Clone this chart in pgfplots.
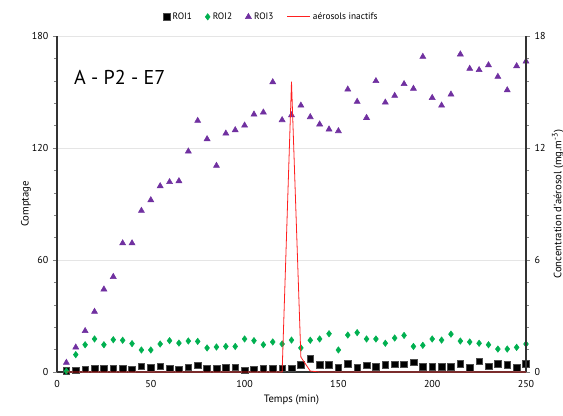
\documentclass[border=0pt]{standalone}
\usepackage{fontspec}
\setmainfont{PT Sans}
\usepackage{pgfplots}
\pgfplotsset{compat=1.18}
\definecolor{roigreen}{HTML}{00B050}
\definecolor{roipurple}{HTML}{7030A0}
\definecolor{aero}{HTML}{FF2020}

\begin{document}
\begin{tikzpicture}
\pgfplotsset{
  common/.style={
    scale only axis, width=351.75pt, height=252pt,
    xmin=0, xmax=250,
    /pgf/number format/assume math mode=true,
    tick label style={font=\fontsize{7.5}{8}\selectfont},
    label style={font=\fontsize{8}{9}\selectfont},
    minor y tick num=4,
    tick align=outside,
    major tick length=3pt, minor tick length=2pt,
    axis line style={black!80, line width=0.8pt},
  }
}
\begin{axis}[common, name=ax,
    ymin=0, ymax=180, ytick={0,60,120,180},
    xtick={0,50,...,250},
    axis x line*=bottom, axis y line*=left,
    x tick style={draw=none},
    ymajorgrids, major grid style={gray!20, line width=0.6pt},
    xlabel={Temps (min)}, ylabel={Comptage},
    xlabel style={yshift=2pt}, ylabel style={yshift=-6pt},
    legend columns=4,
    legend style={at={(0.458,1.057)}, anchor=center, draw=none,
      font=\fontsize{7}{8}\selectfont,
      /tikz/every even column/.append style={column sep=8pt}},
  ]
\addplot[only marks, mark=square*, mark size=2.5pt, black, mark options={draw=black!70}] coordinates {
(5,0.5) (10,1) (15,1.4) (20,1.6) (25,1.6) (30,1.8) (35,1.6) (40,1.4) (45,3) (50,2.3)
(55,3) (60,2) (65,1.4) (70,2.6) (75,3.6) (80,1.6) (85,1.6) (90,2.3) (95,2.6) (100,1)
(105,1.4) (110,1.6) (115,1.6) (120,2) (125,2) (130,3.9) (135,7.1) (140,3.9) (145,3.9) (150,2.3)
(155,4.3) (160,2.3) (165,3.6) (170,2.8) (175,3.9) (180,4.1) (185,4.1) (190,5.2) (195,2.8) (200,2.8)
(205,2.8) (210,2.8) (215,4.3) (220,2.3) (225,5.7) (230,3) (235,4.3) (240,3.9) (245,2.1) (250,4.3)
};
\addlegendentry{ROI1}
\addplot[only marks, mark=diamond*, mark size=2.4pt, roigreen] coordinates {
(5,0.5) (10,9.3) (15,14.6) (20,17.7) (25,14.6) (30,17.3) (35,17) (40,15.2) (45,11.8) (50,11.8)
(55,15) (60,16.8) (65,15.5) (70,16.6) (75,16.4) (80,12.9) (85,13.4) (90,13.7) (95,13.7) (100,17.7)
(105,16.8) (110,14.6) (115,16.1) (120,15) (125,17.1) (130,12.9) (135,17) (140,17.7) (145,20.5) (150,11.8)
(155,19.8) (160,21.1) (165,17.7) (170,17.7) (175,15.4) (180,18.2) (185,19.6) (190,13.7) (195,14.3) (200,17.7)
(205,17.1) (210,20.3) (215,16.6) (220,16.1) (225,15.4) (230,14.6) (235,12.3) (240,12.3) (245,13.2) (250,15)
};
\addlegendentry{ROI2}
\addplot[only marks, mark=triangle*, mark size=2.6pt, roipurple] coordinates {
(5,5) (10,13.2) (15,22) (20,32.3) (25,44.3) (30,51) (35,69) (40,69) (45,86.4) (50,92.1)
(55,99.6) (60,101.8) (65,102.3) (70,118.2) (75,134.6) (80,124.8) (85,110.5) (90,127.8) (95,129.6) (100,132.1)
(105,138) (110,139.1) (115,155.3) (120,135) (125,137.6) (130,142.8) (135,136.6) (140,132.7) (145,130) (150,129.1)
(155,151.4) (160,144.8) (165,136.2) (170,155.9) (175,144.4) (180,148) (185,154.3) (190,151.8) (195,168.9) (200,146.9)
(205,142.8) (210,148.7) (215,170.2) (220,162.5) (225,161.8) (230,164.4) (235,158.2) (240,151) (245,163.9) (250,166.4)
};
\addlegendentry{ROI3}
\addlegendimage{aero, line width=0.6pt, line legend}
\addlegendentry{aérosols inactifs}
\node[anchor=west, inner sep=0pt, font=\fontsize{15}{17}\selectfont] at (axis cs:9,158) {A - P2 - E7};
\end{axis}
\begin{axis}[common,
    ymin=0, ymax=18, ytick={0,6,12,18},
    axis x line=none, axis y line*=right,
    ylabel={Concentration d'aérosol (mg.m\textsuperscript{-3})},
    ylabel style={yshift=2pt},
  ]
\addplot[aero, line width=0.6pt] coordinates {
(5,0) (120,0) (125,15.55) (130,0.8) (135,0.05) (140,0) (250,0)
};
\end{axis}
\pgfresetboundingbox
\path[use as bounding box] ([xshift=-42.75pt,yshift=-32.25pt]ax.south west) rectangle ([xshift=27.75pt,yshift=27pt]ax.north east);
\end{tikzpicture}
\end{document}
